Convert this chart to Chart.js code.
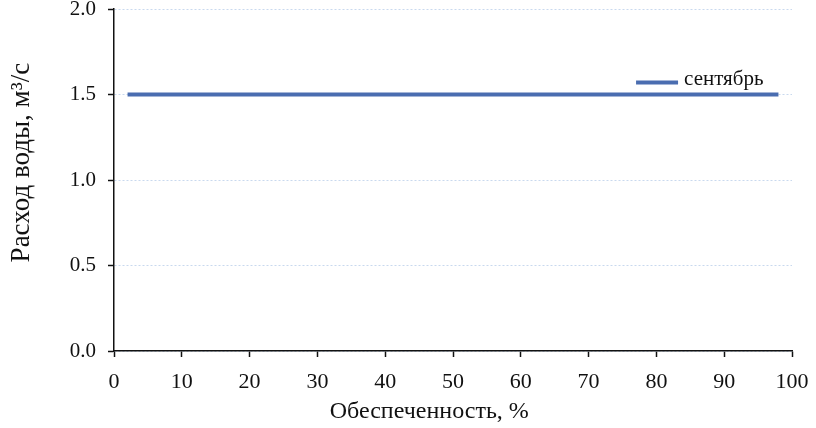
<!DOCTYPE html>
<html><head><meta charset="utf-8">
<script src="https://cdn.jsdelivr.net/npm/chart.js@4"></script>
<style>html,body{margin:0;padding:0;background:#fff}#w{width:816px;height:428px}</style>
</head><body><div id="w"><canvas id="c" width="816" height="428"></canvas></div>
<script>
const seriesName = 'сентябрь';
const supplyPct = [2, 98];
const flowSeptember = [1.5, 1.5];
const xTitle = 'Обеспеченность, %';
const yTitle = 'Расход воды, м³/с';

const FONT = '"Liberation Serif", "Times New Roman", serif';
const LINE_COLOR = '#4a6db0';

const decorPlugin = {
  id: 'decor',
  afterDraw(chart) {
    const ctx = chart.ctx, a = chart.chartArea;
    const w = a.right - a.left, h = a.bottom - a.top;
    const ds = chart.data.datasets[0];
    ctx.save();
    // legend inside plot
    const x0 = a.left + w * 0.77;
    const y0 = a.top + h * 0.215;
    ctx.strokeStyle = ds.borderColor; ctx.lineWidth = 4; ctx.lineCap = 'butt';
    ctx.beginPath(); ctx.moveTo(x0, y0); ctx.lineTo(x0 + 42, y0); ctx.stroke();
    ctx.fillStyle = '#111'; ctx.font = '21px ' + FONT; ctx.textBaseline = 'middle';
    ctx.textAlign = 'left';
    ctx.fillText(ds.label, x0 + 48, y0 - 3);
    // axis titles
    ctx.textAlign = 'center';
    ctx.font = '24px ' + FONT;
    ctx.fillText(xTitle, a.left + w * 0.465, a.bottom + 61);
    ctx.translate(a.left - 92, a.top + h * 0.449);
    ctx.rotate(-Math.PI / 2);
    ctx.font = '27px ' + FONT;
    ctx.fillText(yTitle, 0, 0);
    ctx.restore();
  }
};

new Chart(document.getElementById('c'), {
  type: 'scatter',
  data: {
    datasets: [{
      label: seriesName,
      data: supplyPct.map((x, i) => ({x, y: flowSeptember[i]})),
      showLine: true,
      borderColor: LINE_COLOR,
      backgroundColor: LINE_COLOR,
      borderWidth: 4,
      pointRadius: 0,
      fill: false
    }]
  },
  options: {
    responsive: false,
    animation: false,
    layout: {padding: {left: 0, right: 24, top: 0, bottom: 0}},
    plugins: {legend: {display: false}, tooltip: {enabled: false}},
    scales: {
      x: {
        type: 'linear', min: 0, max: 100,
        ticks: {stepSize: 10, color: '#111', font: {family: FONT, size: 22}, padding: 12, maxRotation: 0},
        grid: {drawOnChartArea: false, drawTicks: true, tickLength: 6, tickColor: '#111', tickWidth: 1.5},
        border: {display: true, color: '#111', width: 1.5},
        title: {display: false, text: xTitle},
        afterFit(s) { s.height = 77; s.paddingLeft = 0; s.paddingRight = 0; }
      },
      y: {
        min: 0, max: 2,
        ticks: {stepSize: 0.5, color: '#111', font: {family: FONT, size: 21}, padding: 12,
          callback: v => Number(v).toFixed(1)},
        grid: {color: '#c9d9ee', lineWidth: 1, tickLength: 6, tickColor: '#111', tickWidth: 1.5, drawTicks: true},
        border: {display: true, color: '#111', width: 1.5, dash: [2, 2]},
        title: {display: false, text: yTitle},
        afterFit(s) { s.width = 114; s.paddingTop = 9; s.paddingBottom = 0; }
      }
    }
  },
  plugins: [decorPlugin]
});
</script></body></html>
